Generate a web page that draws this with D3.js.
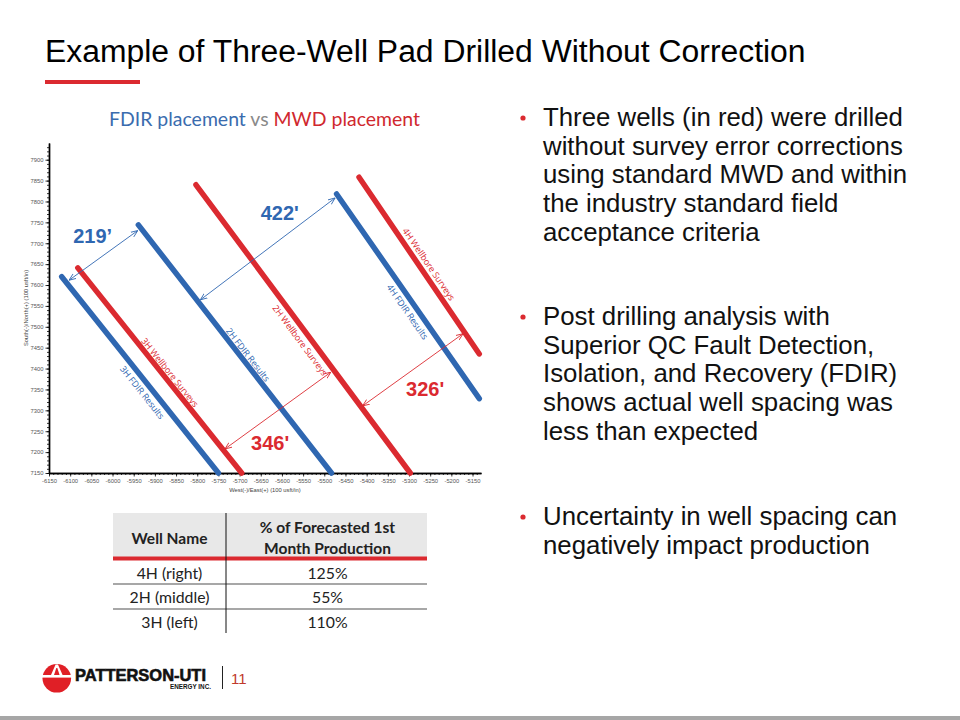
<!DOCTYPE html>
<html>
<head>
<meta charset="utf-8">
<script src="https://cdn.jsdelivr.net/npm/d3@7"></script>
<style>
  body { margin: 0; background: #fff; }
  svg { display: block; }
</style>
</head>
<body>
<svg id="slide"></svg>
<script>
// ---- data ----
const titleText = "Example of Three-Well Pad Drilled Without Correction";

const wellNames = ["3H", "2H", "4H"];
// FDIR (corrected) positions, [west/east, south/north] in usft
const fdirPaths = [
    [[-6120, 7620], [-5750, 7150]],
    [[-5939, 7744], [-5483, 7150]],
    [[-5471, 7818], [-5134, 7328]]
];
// MWD wellbore surveys as drilled
const mwdPaths = [
    [[-6082, 7641], [-5695, 7150]],
    [[-5803, 7840], [-5297, 7150]],
    [[-5418, 7858], [-5134, 7435]]
];
const fdirLabelAt = [0.56, 0.54, 0.55];   // fraction along the well
const fdirLabelSide = [-9, 7, -9];        // px, + = right of the well
const mwdLabelAt = [0.53, 0.52, 0.52];
const mwdLabelSide = [7, -9, 9];

const spacingLabels = ["219’", "422'", "346'", "326'"];
const spacingKind = ["fdir", "fdir", "mwd", "mwd"];
const spacingFrom = [[-6102, 7612], [-5792, 7565], [-5734, 7208], [-5409, 7311]];
const spacingTo = [[-5941, 7730], [-5475, 7808], [-5485, 7391], [-5173, 7483]];
const spacingLabelAt = [[-6047, 7718], [-5605, 7773], [-5628, 7223], [-5262, 7352]];

const xTicks = [-6150, -6100, -6050, -6000, -5950, -5900, -5850, -5800, -5750, -5700,
    -5650, -5600, -5550, -5500, -5450, -5400, -5350, -5300, -5250, -5200, -5150];
const yTicks = [7150, 7200, 7250, 7300, 7350, 7400, 7450, 7500, 7550, 7600,
    7650, 7700, 7750, 7800, 7850, 7900];

const tableHeader = ["Well Name", ["% of Forecasted 1st", "Month Production"]];
const tableWells = ["4H (right)", "2H (middle)", "3H (left)"];
const tableProduction = ["125%", "55%", "110%"];

const bullets = [
    ["Three wells (in red) were drilled", "without survey error corrections",
     "using standard MWD and within", "the industry standard field", "acceptance criteria"],
    ["Post drilling analysis with", "Superior QC Fault Detection,",
     "Isolation, and Recovery (FDIR)", "shows actual well spacing was", "less than expected"],
    ["Uncertainty in well spacing can", "negatively impact production"]
];

// ---- styles ----
const BLUE = "#2f67b1";
const RED = "#db2a30";
const SANS = "'Liberation Sans', Arial, sans-serif";
const PROXIMA = "Lato, 'Open Sans', sans-serif";

const svg = d3.select("#slide").attr("width", 960).attr("height", 720);
svg.append("rect").attr("width", 960).attr("height", 720).attr("fill", "#fff");

function fit_width(sel, target) {
    const len = sel.node().getComputedTextLength();
    const fs = parseFloat(sel.attr("font-size"));
    sel.attr("font-size", (fs * target / len).toFixed(2));
    return fs * target / len;
}

// ---- title ----
const title = svg.append("text")
    .attr("x", 45).attr("y", 62)
    .attr("font-family", SANS).attr("font-size", 32)
    .attr("fill", "#000")
    .text(titleText);
fit_width(title, 761);

svg.append("rect").attr("x", 45).attr("y", 80).attr("width", 95).attr("height", 4).attr("fill", RED);

// ---- chart subtitle ----
const sub = svg.append("text")
    .attr("x", 109).attr("y", 126)
    .attr("font-family", PROXIMA).attr("font-size", 18.5);
sub.append("tspan").attr("fill", "#3a6cae").text("FDIR placement ");
sub.append("tspan").attr("fill", "#8a8a8a").text("vs ");
sub.append("tspan").attr("fill", "#d0282e").text("MWD placement");
fit_width(sub, 311);

// ---- chart ----
const x = d3.scaleLinear().domain([-6150, -5130]).range([49, 481]);
const y = d3.scaleLinear().domain([7150, 7940]).range([473, 143]);

const chart = svg.append("g");

const fmt = d => String(d);

function style_axis(g) {
    g.select(".domain").attr("stroke", "#000").attr("stroke-width", 1.4);
    g.selectAll(".tick line").attr("stroke", "#000").attr("stroke-width", 0.8);
    g.selectAll(".tick text").attr("fill", "#555").attr("font-size", 5.8).attr("font-family", SANS);
}

// minor ticks every 10 usft
chart.append("g")
    .attr("transform", `translate(0,${y(7150)})`)
    .call(d3.axisBottom(x).tickValues(d3.range(-6150, -5130, 10)).tickSize(2).tickSizeOuter(0).tickFormat(""))
    .call(style_axis);
chart.append("g")
    .attr("transform", `translate(${x(-6150)},0)`)
    .call(d3.axisLeft(y).tickValues(d3.range(7150, 7940, 10)).tickSize(2).tickSizeOuter(0).tickFormat(""))
    .call(style_axis);

chart.append("g")
    .attr("transform", `translate(0,${y(7150)})`)
    .call(d3.axisBottom(x).tickValues(xTicks).tickSize(3.5).tickSizeOuter(0).tickPadding(2).tickFormat(fmt))
    .call(style_axis);
chart.append("g")
    .attr("transform", `translate(${x(-6150)},0)`)
    .call(d3.axisLeft(y).tickValues(yTicks).tickSize(3.5).tickSizeOuter(0).tickPadding(2).tickFormat(fmt))
    .call(style_axis);

chart.append("text")
    .attr("x", 265).attr("y", 492)
    .attr("text-anchor", "middle")
    .attr("font-family", SANS).attr("font-size", 5.8).attr("fill", "#444")
    .text("West(-)/East(+) (100 usft/in)");
chart.append("text")
    .attr("transform", "translate(28,308) rotate(-90)")
    .attr("text-anchor", "middle")
    .attr("font-family", SANS).attr("font-size", 5.8).attr("fill", "#444")
    .text("South(-)/North(+) (100 usft/in)");

// arrow heads for spacing annotations
const defs = svg.append("defs");
[["fdir", BLUE], ["mwd", RED]].forEach(([id, c]) => {
    defs.append("marker")
        .attr("id", "arrow-" + id)
        .attr("viewBox", "0 -5 10 10")
        .attr("refX", 9.5).attr("refY", 0)
        .attr("markerUnits", "userSpaceOnUse")
        .attr("markerWidth", 7).attr("markerHeight", 7)
        .attr("orient", "auto-start-reverse")
        .append("path")
        .attr("d", "M0,-4L10,0L0,4")
        .attr("fill", "none")
        .attr("stroke", c)
        .attr("stroke-width", 1.2);
});

const line = d3.line().x(d => x(d[0])).y(d => y(d[1]));

function draw_wells(paths, color) {
    chart.append("g")
        .selectAll("path")
        .data(paths)
        .enter().append("path")
        .attr("d", line)
        .attr("fill", "none")
        .attr("stroke", color)
        .attr("stroke-width", 5.5)
        .attr("stroke-linecap", "round");
}
draw_wells(fdirPaths, BLUE);
draw_wells(mwdPaths, RED);

function label_wells(paths, at, side, suffix, color) {
    paths.forEach((p, i) => {
        const x0 = x(p[0][0]), y0 = y(p[0][1]);
        const x1 = x(p[1][0]), y1 = y(p[1][1]);
        const dx = x1 - x0, dy = y1 - y0;
        const len = Math.hypot(dx, dy);
        const angle = Math.atan2(dy, dx) * 180 / Math.PI;
        const px = x0 + dx * at[i] + dy / len * side[i];
        const py = y0 + dy * at[i] - dx / len * side[i];
        chart.append("text")
            .attr("transform", `translate(${px},${py}) rotate(${angle})`)
            .attr("text-anchor", "middle")
            .attr("dominant-baseline", "central")
            .attr("font-family", "'Open Sans', sans-serif")
            .attr("font-size", 8.9)
            .attr("fill", color)
            .text(wellNames[i] + suffix);
    });
}
label_wells(fdirPaths, fdirLabelAt, fdirLabelSide, " FDIR Results", BLUE);
label_wells(mwdPaths, mwdLabelAt, mwdLabelSide, " Wellbore Surveys", RED);

spacingLabels.forEach((lab, i) => {
    const c = spacingKind[i] === "fdir" ? BLUE : RED;
    chart.append("line")
        .attr("x1", x(spacingFrom[i][0])).attr("y1", y(spacingFrom[i][1]))
        .attr("x2", x(spacingTo[i][0])).attr("y2", y(spacingTo[i][1]))
        .attr("stroke", c).attr("stroke-width", 0.9)
        .attr("marker-start", `url(#arrow-${spacingKind[i]})`)
        .attr("marker-end", `url(#arrow-${spacingKind[i]})`);
    chart.append("text")
        .attr("x", x(spacingLabelAt[i][0])).attr("y", y(spacingLabelAt[i][1]))
        .attr("text-anchor", "middle")
        .attr("dominant-baseline", "central")
        .attr("font-family", SANS).attr("font-weight", "bold").attr("font-size", 20)
        .attr("fill", c)
        .text(lab);
});

// ---- table ----
const colEdges = [113, 226, 427];
const rowEdges = [561, 584, 609, 633];
const table = svg.append("g").attr("font-family", PROXIMA).attr("fill", "#222");

table.append("rect").attr("x", colEdges[0]).attr("y", 513)
    .attr("width", colEdges[2] - colEdges[0]).attr("height", 44).attr("fill", "#e8e8e8");
table.append("rect").attr("x", colEdges[0]).attr("y", 556.5)
    .attr("width", colEdges[2] - colEdges[0]).attr("height", 4).attr("fill", RED);
table.selectAll(".sep")
    .data(rowEdges.slice(1, 3))
    .enter().append("line")
    .attr("x1", colEdges[0]).attr("x2", colEdges[2])
    .attr("y1", d => d).attr("y2", d => d)
    .attr("stroke", "#8a8a8a").attr("stroke-width", 1.5);
table.append("line")
    .attr("x1", colEdges[1]).attr("x2", colEdges[1])
    .attr("y1", 513).attr("y2", 633)
    .attr("stroke", "#111").attr("stroke-width", 1);

const c1 = (colEdges[0] + colEdges[1]) / 2;
const c2 = (colEdges[1] + colEdges[2]) / 2 + 1;
table.append("text").attr("x", c1).attr("y", 543.5)
    .attr("text-anchor", "middle").attr("font-weight", "bold").attr("font-size", 15.5)
    .text(tableHeader[0]);
tableHeader[1].forEach((t, i) => {
    table.append("text").attr("x", c2).attr("y", 533 + i * 20.5)
        .attr("text-anchor", "middle").attr("font-weight", "bold").attr("font-size", 15.5)
        .text(t);
});
tableWells.forEach((w, i) => {
    const cy = (rowEdges[i] + rowEdges[i + 1]) / 2 + 6.5;
    table.append("text").attr("x", c1).attr("y", cy)
        .attr("text-anchor", "middle").attr("font-size", 15.8).text(w);
    table.append("text").attr("x", c2).attr("y", cy)
        .attr("text-anchor", "middle").attr("font-size", 15.8).text(tableProduction[i]);
});

// ---- bullets ----
const bulletTop = [118, 317, 517];
const lineGap = 28.7;
const bulletFont = svg.append("text").attr("font-family", SANS).attr("font-size", 26)
    .attr("x", 543).attr("y", -50).text(bullets[0][1]);
const bfs = fit_width(bulletFont, 360);
bulletFont.remove();

bullets.forEach((lines, b) => {
    svg.append("circle").attr("cx", 523).attr("cy", bulletTop[b]).attr("r", 2.6).attr("fill", RED);
    const t = svg.append("text")
        .attr("font-family", SANS).attr("font-size", bfs.toFixed(2))
        .attr("fill", "#111");
    lines.forEach((ln, i) => {
        t.append("tspan").attr("x", 543).attr("y", bulletTop[b] + 8 + i * lineGap).text(ln);
    });
});

// ---- footer / logo ----
const logo = svg.append("g");
logo.append("circle").attr("cx", 56.8).attr("cy", 678.3).attr("r", 14.3).attr("fill", "#e01f26");
logo.append("path")
    .attr("d", "M55.6,664.5 L58,664.5 L62.6,675 L51,675 Z")
    .attr("fill", "#fff");
logo.append("path")
    .attr("d", "M56.3,668 L57.3,668 L59.6,675 L54,675 Z")
    .attr("fill", "#e01f26");
logo.append("rect").attr("x", 42).attr("y", 675).attr("width", 29.6).attr("height", 2.6).attr("fill", "#fff");

logo.append("text")
    .attr("x", 75).attr("y", 680.5)
    .attr("font-family", SANS).attr("font-weight", "bold").attr("font-size", 16.5)
    .attr("fill", "#111").attr("stroke", "#111").attr("stroke-width", 0.6)
    .attr("textLength", 131).attr("lengthAdjust", "spacingAndGlyphs")
    .text("PATTERSON-UTI");
logo.append("text")
    .attr("x", 170).attr("y", 689.3)
    .attr("font-family", SANS).attr("font-weight", "bold").attr("font-size", 6.6)
    .attr("fill", "#111")
    .attr("textLength", 41).attr("lengthAdjust", "spacingAndGlyphs")
    .text("ENERGY INC.");
logo.append("line").attr("x1", 222.5).attr("x2", 222.5).attr("y1", 666).attr("y2", 689)
    .attr("stroke", "#222").attr("stroke-width", 1);
logo.append("text")
    .attr("x", 231).attr("y", 684)
    .attr("font-family", SANS).attr("font-size", 15)
    .attr("fill", "#c0392b")
    .text("11");

svg.append("rect").attr("x", 0).attr("y", 716).attr("width", 960).attr("height", 4).attr("fill", "#a6a6a6");
</script>
</body>
</html>
